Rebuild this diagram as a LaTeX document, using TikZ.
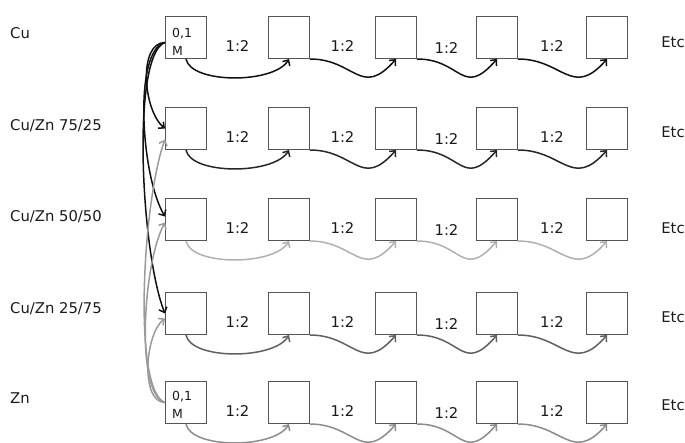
\documentclass[tikz,border=0pt]{standalone}
\usepackage{fontspec}
\setmainfont{DejaVu Sans}
\usetikzlibrary{arrows.meta,calc}
\definecolor{boxc}{HTML}{555555}
\definecolor{txt}{HTML}{1A1A1A}
\definecolor{rA}{HTML}{111111}
\definecolor{rB}{HTML}{262626}
\definecolor{rC}{HTML}{B0B0B0}
\definecolor{rD}{HTML}{606060}
\definecolor{rE}{HTML}{8C8C8C}
\definecolor{gz}{HTML}{9A9A9A}
\begin{document}
\begin{tikzpicture}[x=1pt,y=-1pt,
  cell/.style={draw=boxc,line width=1pt,minimum width=41pt,minimum height=42pt,inner sep=0pt,anchor=north west},
  lab/.style={font=\fontsize{14.8}{17}\selectfont,text=txt,inner sep=0pt},
  small/.style={font=\fontsize{12.5}{18}\selectfont,text=txt,inner sep=0pt,align=left,anchor=west},
  conn/.style={line width=1.5pt,-{Straight Barb[length=4.5pt,width=8.5pt]}},
]
\useasboundingbox (0,0) rectangle (685,442);
\foreach \r/\t in {1/16,2/107,3/198,4/292,5/381}{
  \foreach \c/\x in {1/165,2/268,3/375,4/476,5/586}{
    \node[cell] (b\r\c) at (\x,\t) {};
  }
}
% ratio labels
\foreach \r in {1,...,5}{
  \foreach \c/\n/\dy in {1/2/9,2/3/9,3/4/11,4/5/9}{
    \node[lab] (h\r\c) at ($(b\r\c.east)!0.5!(b\r\n.west)+(0,\dy)$) {1:2};
  }
}
% Etc
\foreach \r/\y in {1/42,2/132,3/228,4/317,5/405}{
  \node[lab] (e\r) at (673,\y) {Etc};
}
% row labels
\node[lab,anchor=west] (l1) at (10,33) {Cu};
\node[lab,anchor=west] (l2) at (10,126) {Cu/Zn 75/25};
\node[lab,anchor=west] (l3) at (10,217) {Cu/Zn 50/50};
\node[lab,anchor=west] (l4) at (10,309) {Cu/Zn 25/75};
\node[lab,anchor=west] (l5) at (10,398) {Zn};
% concentration
\node[small] (m1) at ($(b11.west)+(7,4)$) {0,1\\M};
\node[small] (m5) at ($(b51.west)+(7,2)$) {0,1\\M};
% dilution connectors
\foreach \r/\col in {1/rA,2/rB,3/rC,4/rD,5/rE}{
  \draw[conn,\col] (b\r1.south) .. controls +(5,25) and +(-15,25) .. (b\r2.south);
  \foreach \c/\n in {2/3,3/4,4/5}{
    \draw[conn,\col] (b\r\c.south east) .. controls +(45,0) and +(-35,40) .. (b\r\n.south);
  }
}
% mixing connectors from Cu
\draw[conn,rA] ($(b11.west)+(0,5)$) .. controls +(-27,0) and +(-22,-18) .. (b21.west);
\draw[conn,rA] ($(b11.west)+(0,5)$) .. controls +(-32,8) and +(-24,-40) .. ($(b31.west)+(0,-3)$);
\draw[conn,rA] ($(b11.west)+(0,5)$) .. controls +(-34,12) and +(-24,-60) .. (b41.west);
% mixing connectors from Zn
\draw[conn,gz] (b51.west) .. controls +(-25,0) and +(-20,15) .. ($(b41.west)+(0,5)$);
\draw[conn,gz] (b51.west) .. controls +(-30,-8) and +(-22,40) .. ($(b31.west)+(0,3)$);
\draw[conn,gz] (b51.west) .. controls +(-33,-12) and +(-22,60) .. ($(b21.west)+(0,11)$);
\end{tikzpicture}
\end{document}
